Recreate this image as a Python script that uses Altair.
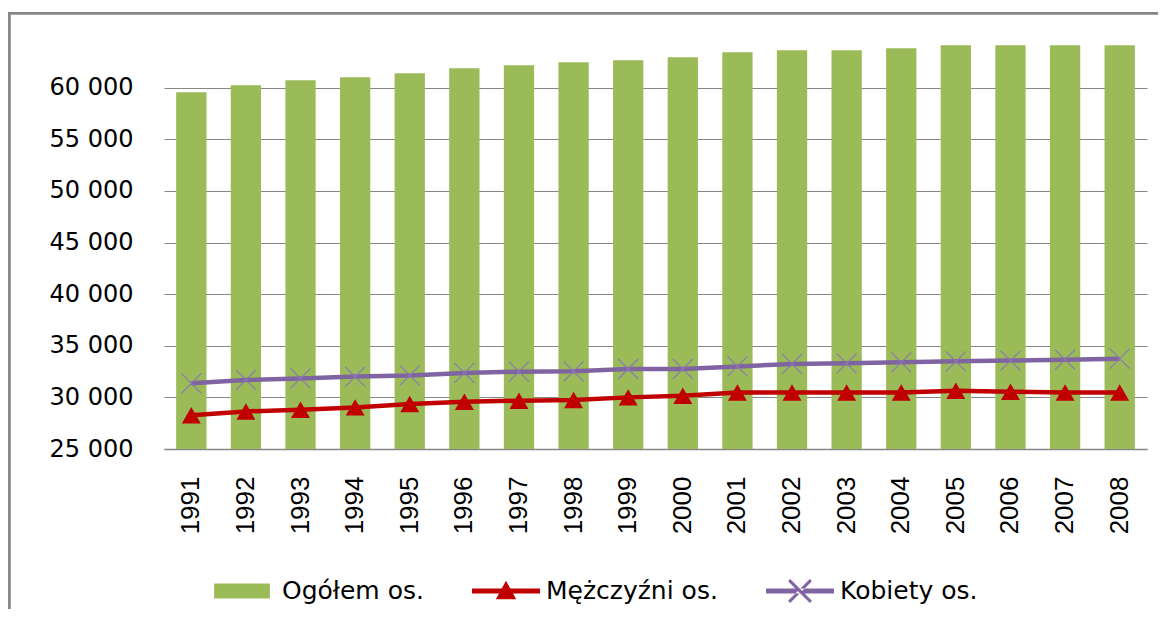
import altair as alt
import pandas as pd

years = ["1991", "1992", "1993", "1994", "1995", "1996", "1997", "1998", "1999",
         "2000", "2001", "2002", "2003", "2004", "2005", "2006", "2007", "2008"]
ogolem = [59540, 60220, 60710, 61000, 61390, 61870, 62160, 62450, 62650,
          62940, 63420, 63620, 63620, 63810, 64100, 64100, 64100, 64100]
mezczyzni = [28270, 28640, 28810, 29030, 29360, 29580, 29680, 29750, 30000,
             30160, 30480, 30480, 30480, 30480, 30650, 30550, 30480, 30480]
kobiety = [31360, 31690, 31840, 32010, 32130, 32370, 32490, 32520, 32750,
           32760, 33000, 33240, 33300, 33390, 33490, 33560, 33650, 33750]
series_names = ["Ogółem os.", "Mężczyźni os.", "Kobiety os."]
series_colors = ["#9BBB59", "#C00000", "#8064A2"]
y_ticks = [25000, 30000, 35000, 40000, 45000, 50000, 55000, 60000]

rows = []
for name, vals in zip(series_names, [ogolem, mezczyzni, kobiety]):
    for yr, v in zip(years, vals):
        rows.append({"year": yr, "series": name, "value": v})
df = pd.DataFrame(rows)

GRID = "#868686"

x_enc = alt.X("year:N", sort=years,
              scale=alt.Scale(paddingInner=0.445, paddingOuter=0.2225),
              axis=alt.Axis(title=None, labelAngle=270, labelFont="Liberation Sans",
                            labelFontSize=26, labelPadding=27, ticks=False,
                            domainColor=GRID, domainWidth=1.5, labelColor="black",
                            grid=False))
y_enc = alt.Y("value:Q",
              scale=alt.Scale(domain=[25000, 65000], nice=False, zero=False),
              axis=alt.Axis(title=None, values=y_ticks,
                            labelExpr="format(datum.value/1000, 'd') + ' 000'",
                            labelFont="DejaVu Sans", labelFontSize=24, labelPadding=31,
                            ticks=False, domain=False, gridColor=GRID, gridWidth=1,
                            labelColor="black"))

base = alt.Chart(df)

bars = base.transform_filter(alt.datum.series == "Ogółem os.").mark_bar(
    color="#9BBB59").encode(x=x_enc, y=y_enc, y2=alt.datum(25000))

k_line = base.transform_filter(alt.datum.series == "Kobiety os.").mark_line(
    color="#8064A2", strokeWidth=4.5).encode(x=x_enc, y=y_enc)
k_pts = base.transform_filter(alt.datum.series == "Kobiety os.").mark_point(
    shape="M-1,-1L1,1M-1,1L1,-1", size=400, filled=False, strokeWidth=1.2,
    color="#8C77B0", opacity=1).encode(x=x_enc, y=y_enc)

m_line = base.transform_filter(alt.datum.series == "Mężczyźni os.").mark_line(
    color="#C00000", strokeWidth=4.5).encode(x=x_enc, y=y_enc)
m_pts = base.transform_filter(alt.datum.series == "Mężczyźni os.").mark_point(
    shape="triangle-up", size=360, filled=True, color="#C00000",
    opacity=1).encode(x=x_enc, y=y_enc)

# legend symbols (units: +-1 = half symbol box)
a, d = 0.35, 0.06
legend_paths = [
    "M-0.82,-0.22H0.82V0.22H-0.82Z",
    "M-1,-0.07H1V0.07H-1Z M0,-0.3L0.3,0.24L-0.3,0.24Z",
    ("M-1,-0.07H1V0.07H-1Z "
     f"M{-a+d},{-a}L{a},{a-d}L{a-d},{a}L{-a},{-a+d}Z "
     f"M{a-d},{-a}L{-a},{a-d}L{-a+d},{a}L{a},{-a+d}Z"),
]
leg = dict(title=None, orient="none", legendX=44, legendY=521, direction="horizontal",
           columnPadding=48, labelOffset=6, symbolSize=4624, padding=0,
           labelFont="DejaVu Sans", labelFontSize=25, labelColor="black",
           labelLimit=0, symbolStrokeWidth=0)
legend_layer = alt.Chart(df).transform_filter("false").mark_point(
    filled=True, opacity=1).encode(
    color=alt.Color("series:N", scale=alt.Scale(domain=series_names, range=series_colors),
                    legend=alt.Legend(**leg)),
    shape=alt.Shape("series:N", scale=alt.Scale(domain=series_names, range=legend_paths),
                    legend=alt.Legend(**leg)),
)

frame_df = pd.DataFrame({"k": [0]})
frame_top = alt.Chart(frame_df).mark_rule(color=GRID, strokeWidth=2.7).encode(
    x=alt.value(-156), x2=alt.value(1010), y=alt.value(-22.7))
frame_left = alt.Chart(frame_df).mark_rule(color=GRID, strokeWidth=2.7).encode(
    x=alt.value(-154.6), y=alt.value(-24), y2=alt.value(600))

chart = alt.layer(bars, k_line, k_pts, m_line, m_pts, legend_layer, frame_top, frame_left).properties(
    width=983, height=413,
    padding={"left": 156, "top": 28, "right": 11, "bottom": 160},
    autosize=alt.AutoSizeParams(type="none"),
    background="white",
).configure_view(stroke=None)

chart.save("out.html", embed_options={"renderer": "svg", "actions": False})
